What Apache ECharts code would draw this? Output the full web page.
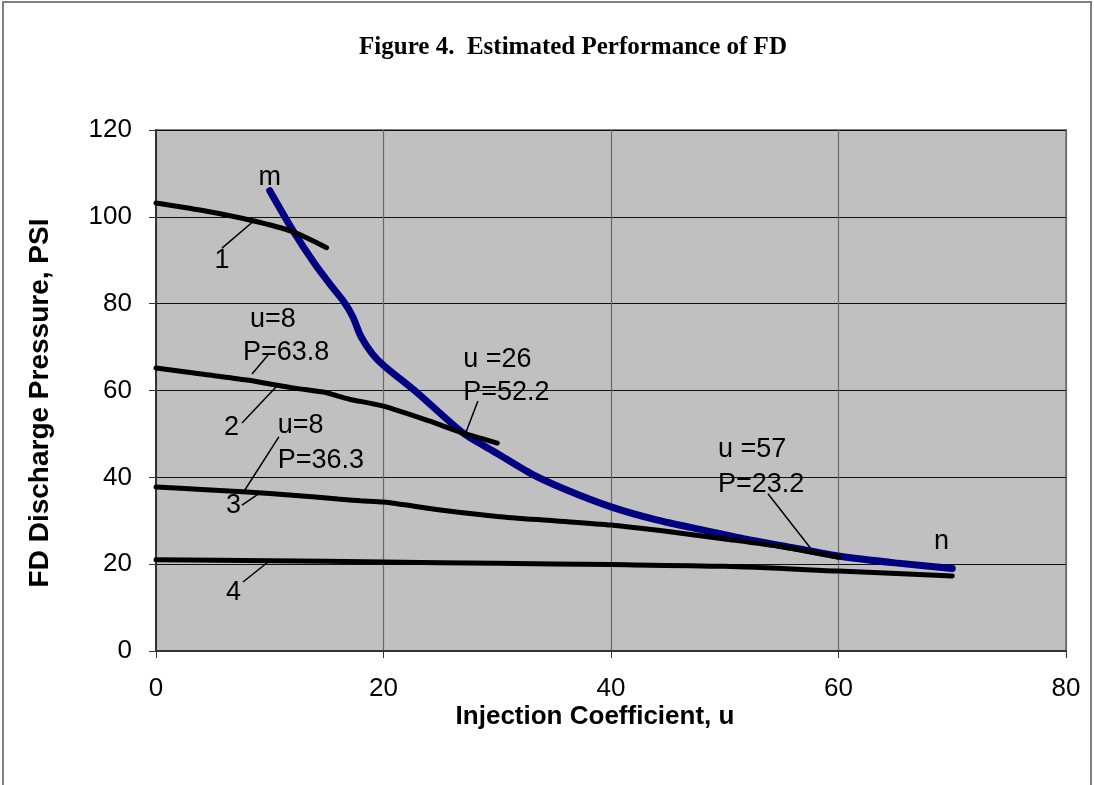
<!DOCTYPE html>
<html>
<head>
<meta charset="utf-8">
<script src="https://cdn.jsdelivr.net/npm/echarts@6/dist/echarts.min.js"></script>
<style>
html,body{margin:0;padding:0;background:#fff;}
#chart{width:1094px;height:785px;}
</style>
</head>
<body>
<div id="chart"></div>
<script>
// ---- Data ----
const titleText = 'Figure 4.  Estimated Performance of FD';
const xTitle = 'Injection Coefficient, u';
const yTitle = 'FD Discharge Pressure, PSI';
const xTicks = [0, 20, 40, 60, 80];
const yTicks = [0, 20, 40, 60, 80, 100, 120];

// curve m-n (blue)
const mnU = [10, 12, 14, 15.5, 16.5, 17.3, 18, 19, 20, 23, 27, 30, 33, 36, 40, 44, 48, 52, 56, 60, 65, 70];
const mnP = [106, 97, 89, 83.8, 80.5, 77, 72.5, 68.5, 65.8, 59.4, 50.2, 45.5, 40.8, 37.2, 33.2, 30.2, 27.9, 25.7, 23.8, 21.9, 20.3, 19];
// curve 1
const c1U = [0, 4, 8.5, 12, 15];
const c1P = [103.2, 101.5, 99.1, 96.6, 92.9];
// curve 2
const c2U = [0, 4, 8, 12, 15, 16, 17, 20, 24, 27, 30];
const c2P = [65.2, 63.8, 62.4, 60.6, 59.5, 58.7, 58, 56.4, 53, 50.2, 47.9];
// curve 3
const c3U = [0, 4, 8, 12, 16, 18, 20, 25, 30, 35, 40, 45, 50, 55, 60];
const c3P = [37.8, 37.2, 36.6, 35.9, 35, 34.6, 34.3, 32.5, 31, 30, 29, 27.5, 25.8, 24, 21.6];
// curve 4
const c4U = [0, 10, 20, 30, 40, 50, 60, 70];
const c4P = [21, 20.8, 20.5, 20.2, 19.9, 19.5, 18.4, 17.3];

// annotations: text, u, P (middle of text), align
const annText = ['m', '1', 'u=8', 'P=63.8', '2', 'u=8', 'P=36.3', '3', '4', 'u =26', 'P=52.2', 'u =57', 'P=23.2', 'n'];
const annU    = [10.0, 5.8, 8.26, 7.65, 5.98, 10.7, 10.7, 6.15, 6.15, 27.0, 27.0, 49.4, 49.4, 68.4];
const annP    = [109.1, 90.0, 76.4, 68.8, 51.5, 52.0, 43.9, 33.6, 13.5, 67.2, 59.6, 46.5, 38.4, 25.1];
const annAlign = ['center', 'center', 'left', 'left', 'left', 'left', 'left', 'left', 'left', 'left', 'left', 'left', 'left', 'left'];

// leader lines: from (u1,P1) to (u2,P2)
const leadU1 = [5.8, 8.44, 7.56, 10.8, 7.56, 7.65, 28.3, 53.8];
const leadP1 = [92.8, 63.8, 52.5, 49.3, 33.6, 15.9, 57.6, 36.2];
const leadU2 = [8.8, 9.85, 10.55, 7.74, 9.14, 9.85, 27.25, 57.6];
const leadP2 = [99.5, 68.2, 60.8, 36.8, 36.4, 20.5, 50.4, 23.5];

function zip(a, b) { return a.map((v, i) => [v, b[i]]); }

const chart = echarts.init(document.getElementById('chart'), null, {renderer: 'canvas'});

const SANS = '"Liberation Sans", Arial, sans-serif';
const SERIF = '"Liberation Serif", "Times New Roman", serif';

const blackLine = (name, data) => ({
  name, type: 'line', data, smooth: 0.25, symbol: 'none', z: 3,
  lineStyle: {color: '#000', width: 5, cap: 'round'}
});

const leaderData = leadU1.map((u, i) => [
  {coord: [u, leadP1[i]]}, {coord: [leadU2[i], leadP2[i]]}
]);

const option = {
  backgroundColor: '#fff',
  animation: false,
  grid: {
    left: 156, top: 130, right: 28, bottom: 134,
    show: true, backgroundColor: '#C0C0C0', borderColor: '#808080', borderWidth: 2
  },
  xAxis: {
    type: 'value', min: 0, max: 80, interval: 20,
    axisLine: {show: true, lineStyle: {color: '#333', width: 2}},
    axisTick: {show: true, length: 7, lineStyle: {color: '#333', width: 1}},
    axisLabel: {margin: 25, fontFamily: SANS, fontSize: 26, color: '#000',
      formatter: v => xTicks.includes(v) ? String(v) : ''},
    splitLine: {show: true, lineStyle: {color: '#6a6a6a', width: 1.2}}
  },
  yAxis: {
    type: 'value', min: 0, max: 120, interval: 20,
    axisLine: {show: true, lineStyle: {color: '#333', width: 2}},
    axisTick: {show: true, length: 7, lineStyle: {color: '#333', width: 1}},
    axisLabel: {margin: 24, fontFamily: SANS, fontSize: 26, color: '#000',
      formatter: v => yTicks.includes(v) ? String(v) : ''},
    splitLine: {show: true, lineStyle: {color: '#111', width: 1}}
  },
  series: [
    {
      name: 'm-n', type: 'line', data: zip(mnU, mnP), smooth: 0.25, symbol: 'none', z: 2,
      lineStyle: {color: '#000080', width: 7, cap: 'round'},
      markLine: {
        silent: true, symbol: ['none', 'none'], label: {show: false},
        lineStyle: {color: '#000', width: 1.5, type: 'solid'},
        data: leaderData, z: 4
      }
    },
    blackLine('1', zip(c1U, c1P)),
    blackLine('2', zip(c2U, c2P)),
    blackLine('3', zip(c3U, c3P)),
    blackLine('4', zip(c4U, c4P))
  ]
};

chart.setOption(option);

const texts = annText.map((t, i) => {
  const p = chart.convertToPixel({gridIndex: 0}, [annU[i], annP[i]]);
  return {
    type: 'text', z: 10,
    style: {text: t, x: p[0], y: p[1], align: annAlign[i], verticalAlign: 'middle',
      font: '27px ' + SANS, fill: '#000'}
  };
});

chart.setOption({
  graphic: [
    {type: 'rect', z: 0, shape: {x: 3, y: 2, width: 1088, height: 820},
      style: {fill: 'none', stroke: '#808080', lineWidth: 2}},
    {type: 'text', z: 10, style: {text: titleText, x: 573, y: 48, align: 'center', verticalAlign: 'middle',
      font: 'bold 25px ' + SERIF, fill: '#000'}},
    {type: 'text', z: 10, style: {text: xTitle, x: 595, y: 717, align: 'center', verticalAlign: 'middle',
      font: 'bold 26px ' + SANS, fill: '#000'}},
    {type: 'text', z: 10, x: 40, y: 403, rotation: Math.PI / 2,
      style: {text: yTitle, x: 0, y: 0, align: 'center', verticalAlign: 'middle',
      font: 'bold 28px ' + SANS, fill: '#000'}}
  ].concat(texts)
});
</script>
</body>
</html>
